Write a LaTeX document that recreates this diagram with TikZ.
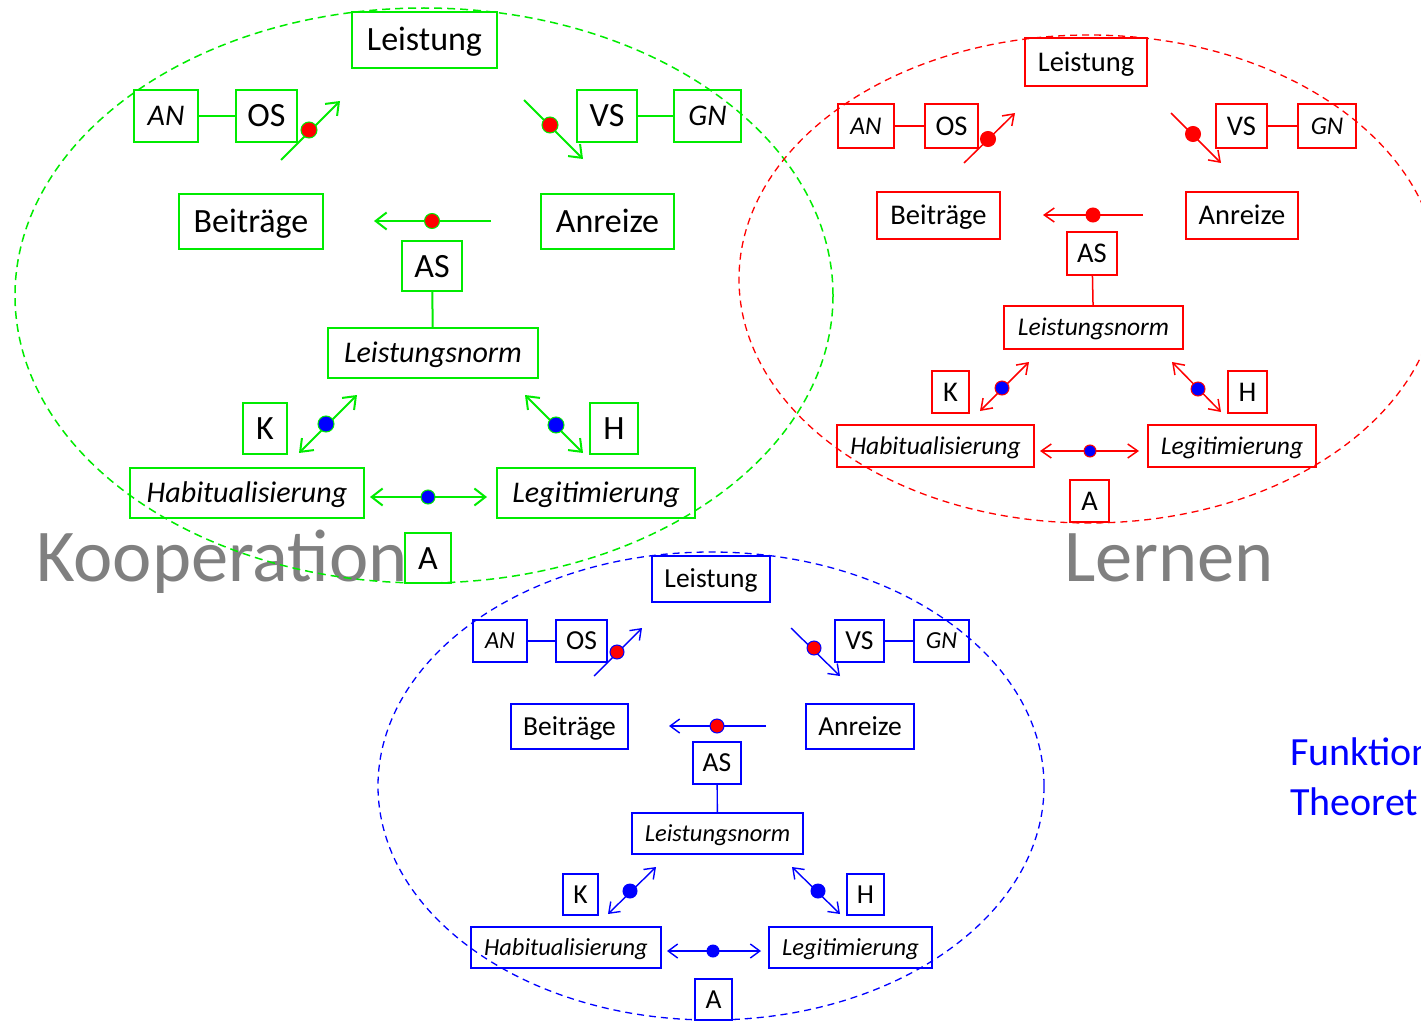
\documentclass[tikz,border=0pt]{standalone}
\usepackage{fontspec}
\setmainfont{Carlito}
\usetikzlibrary{arrows.meta}
\definecolor{gcol}{RGB}{0,235,0}
\definecolor{rcol}{RGB}{255,0,0}
\definecolor{bcol}{RGB}{0,0,255}
\definecolor{graytxt}{RGB}{128,128,128}
\tikzset{
  gbox/.style={inner sep=0pt, draw=gcol, line width=2pt, font=\fontsize{34}{40}\selectfont, text height=24pt, text depth=2pt},
  gboxi/.style={gbox, font=\fontsize{30}{36}\selectfont\itshape, text height=21pt, text depth=1.8pt},
  rbox/.style={inner sep=0pt, draw=rcol, line width=1.5pt, font=\fontsize{28.5}{34}\selectfont, text height=20pt, text depth=1.7pt},
  rboxi/.style={rbox, font=\fontsize{25.5}{30}\selectfont\itshape, text height=17.9pt, text depth=1.5pt},
  bbox/.style={inner sep=0pt, draw=bcol, line width=1.4pt, font=\fontsize{27.5}{33}\selectfont, text height=19.3pt, text depth=1.6pt},
  bboxi/.style={bbox, font=\fontsize{24.5}{29}\selectfont\itshape, text height=17.2pt, text depth=1.5pt},
  garr/.style={draw=gcol, line width=2pt, arrows={-Straight Barb[length=11pt,width=17pt]}},
  rarr/.style={draw=rcol, line width=1.5pt, arrows={-Straight Barb[length=10pt,width=14pt]}},
  barr/.style={draw=bcol, line width=1.4pt, arrows={-Straight Barb[length=9.5pt,width=14pt]}},
  glink/.style={draw=gcol, line width=2pt},
  rlink/.style={draw=rcol, line width=1.5pt},
  blink/.style={draw=bcol, line width=1.4pt},
  dotn/.style={circle, inner sep=0pt, line width=1pt},
  gell/.style={draw=gcol, line width=1.5pt, dash pattern=on 8pt off 5pt},
  rell/.style={draw=rcol, line width=1.3pt, dash pattern=on 7pt off 5pt},
  bell/.style={draw=bcol, line width=1.3pt, dash pattern=on 7pt off 5pt},
  bigtxt/.style={text=graytxt, font=\fontsize{74.5}{80}\selectfont, inner sep=0pt, anchor=base west},
  fntxt/.style={text=bcol, font=\fontsize{40}{48}\selectfont, inner sep=0pt, anchor=base west}
}
\begin{document}
\begin{tikzpicture}[x=1pt,y=-1pt]
\useasboundingbox (0,0) rectangle (1421,1022);

% big labels
\node[bigtxt] (koop) at (36,581) {Kooperation};
\node[bigtxt] (lern) at (1064,581) {Lernen};
\node[fntxt] (fn1) at (1290,765) {Funktion};
\node[fntxt] (fn2) at (1290,815) {Theoret};

% ================= GREEN =================
\draw[gell] (424,295.5) ellipse [x radius=409, y radius=287.5];
\node[gbox, minimum width=145, minimum height=56] (gLei) at (424.5,40) {Leistung};
\node[gboxi, minimum width=64, minimum height=52] (gAN) at (166,116) {AN};
\node[gbox, minimum width=61, minimum height=52] (gOS) at (266.5,116) {OS};
\node[gbox, minimum width=60, minimum height=52] (gVS) at (607,116) {VS};
\node[gboxi, minimum width=67, minimum height=52] (gGN) at (707.5,116) {GN};
\node[gbox, minimum width=144, minimum height=55] (gBei) at (251,221.5) {Beiträge};
\node[gbox, minimum width=133, minimum height=55] (gAnr) at (607.5,221.5) {Anreize};
\node[gbox, minimum width=60, minimum height=50] (gAS) at (432,266) {AS};
\node[gboxi, minimum width=210, minimum height=50] (gLN) at (433,353) {Leistungsnorm};
\node[gbox, minimum width=44, minimum height=51] (gK) at (265,428.5) {K};
\node[gbox, minimum width=48, minimum height=51] (gH) at (614,428.5) {H};
\node[gboxi, minimum width=234, minimum height=50] (gHab) at (247,493) {Habitualisierung};
\node[gboxi, minimum width=198, minimum height=50] (gLeg) at (596,493) {Legitimierung};
\node[gbox, minimum width=46, minimum height=50] (gA) at (428,558) {A};
\draw[glink] (gAN) -- (gOS);
\draw[glink] (gVS) -- (gGN);
\draw[glink] (gAS) -- (gLN);
\coordinate (g1a) at (281,160); \coordinate (g1b) at (340,101);
\coordinate (g2a) at (524,100); \coordinate (g2b) at (583,159);
\coordinate (g3a) at (491,221); \coordinate (g3b) at (374,221);
\coordinate (g4a) at (299,453); \coordinate (g4b) at (357,395);
\coordinate (g5a) at (525,395); \coordinate (g5b) at (583,453);
\coordinate (g6a) at (370,497); \coordinate (g6b) at (487,497);
\draw[garr] (g1a) -- (g1b);
\draw[garr] (g2a) -- (g2b);
\draw[garr] (g3a) -- (g3b);
\draw[garr, arrows={Straight Barb[length=11pt,width=17pt]-Straight Barb[length=11pt,width=17pt]}] (g4a) -- (g4b);
\draw[garr, arrows={Straight Barb[length=11pt,width=17pt]-Straight Barb[length=11pt,width=17pt]}] (g5a) -- (g5b);
\draw[garr, arrows={Straight Barb[length=11pt,width=17pt]-Straight Barb[length=11pt,width=17pt]}] (g6a) -- (g6b);
\node[dotn, fill=rcol, draw=gcol, minimum size=16] (gd1) at (309,130) {};
\node[dotn, fill=rcol, draw=gcol, minimum size=16] (gd2) at (550,125) {};
\node[dotn, fill=rcol, draw=gcol, minimum size=15] (gd3) at (432,221) {};
\node[dotn, fill=bcol, draw=gcol, minimum size=16] (gd4) at (326,424) {};
\node[dotn, fill=bcol, draw=gcol, minimum size=16] (gd5) at (556,425) {};
\node[dotn, fill=bcol, draw=gcol, minimum size=14] (gd6) at (428,497) {};

% ================= RED =================
\draw[rell] (1089,279) ellipse [x radius=350, y radius=244];
\node[rbox, minimum width=122, minimum height=48] (rLei) at (1086,62) {Leistung};
\node[rboxi, minimum width=56, minimum height=44] (rAN) at (866,126) {AN};
\node[rbox, minimum width=53, minimum height=44] (rOS) at (951.5,126) {OS};
\node[rbox, minimum width=51, minimum height=44] (rVS) at (1241.5,126) {VS};
\node[rboxi, minimum width=58, minimum height=44] (rGN) at (1327,126) {GN};
\node[rbox, minimum width=123, minimum height=47] (rBei) at (938.5,215.5) {Beiträge};
\node[rbox, minimum width=112, minimum height=47] (rAnr) at (1242,215.5) {Anreize};
\node[rbox, minimum width=50, minimum height=43] (rAS) at (1092,253.5) {AS};
\node[rboxi, minimum width=179, minimum height=43] (rLN) at (1093.5,327.5) {Leistungsnorm};
\node[rbox, minimum width=37, minimum height=42] (rK) at (950.5,392) {K};
\node[rbox, minimum width=39, minimum height=42] (rH) at (1247.5,392) {H};
\node[rboxi, minimum width=197, minimum height=42] (rHab) at (935.5,446) {Habitualisierung};
\node[rboxi, minimum width=168, minimum height=42] (rLeg) at (1232,446) {Legitimierung};
\node[rbox, minimum width=39, minimum height=42] (rA) at (1089.5,501) {A};
\draw[rlink] (rAN) -- (rOS);
\draw[rlink] (rVS) -- (rGN);
\draw[rlink] (rAS) -- (rLN);
\coordinate (r1a) at (964,163); \coordinate (r1b) at (1015,113);
\coordinate (r2a) at (1171,113); \coordinate (r2b) at (1221,163);
\coordinate (r3a) at (1143,215); \coordinate (r3b) at (1043,215);
\coordinate (r4a) at (980,411); \coordinate (r4b) at (1029,362);
\coordinate (r5a) at (1172,362); \coordinate (r5b) at (1221,412);
\coordinate (r6a) at (1040,451); \coordinate (r6b) at (1139,451);
\draw[rarr] (r1a) -- (r1b);
\draw[rarr] (r2a) -- (r2b);
\draw[rarr] (r3a) -- (r3b);
\draw[rarr, arrows={Straight Barb[length=10pt,width=14pt]-Straight Barb[length=10pt,width=14pt]}] (r4a) -- (r4b);
\draw[rarr, arrows={Straight Barb[length=10pt,width=14pt]-Straight Barb[length=10pt,width=14pt]}] (r5a) -- (r5b);
\draw[rarr, arrows={Straight Barb[length=10pt,width=14pt]-Straight Barb[length=10pt,width=14pt]}] (r6a) -- (r6b);
\node[dotn, fill=rcol, draw=rcol, minimum size=15] (rd1) at (988,139) {};
\node[dotn, fill=rcol, draw=rcol, minimum size=15] (rd2) at (1193,134) {};
\node[dotn, fill=rcol, draw=rcol, minimum size=14] (rd3) at (1093,215) {};
\node[dotn, fill=bcol, draw=rcol, minimum size=14] (rd4) at (1002,388) {};
\node[dotn, fill=bcol, draw=rcol, minimum size=14] (rd5) at (1198,389) {};
\node[dotn, fill=bcol, draw=rcol, minimum size=12] (rd6) at (1090,451) {};

% ================= BLUE =================
\draw[bell] (711,786) ellipse [x radius=333, y radius=234];
\node[bbox, minimum width=118, minimum height=46] (bLei) at (711,579) {Leistung};
\node[bboxi, minimum width=54, minimum height=42] (bAN) at (500,641) {AN};
\node[bbox, minimum width=51, minimum height=42] (bOS) at (581.5,641) {OS};
\node[bbox, minimum width=49, minimum height=42] (bVS) at (859.5,641) {VS};
\node[bboxi, minimum width=55, minimum height=42] (bGN) at (941.5,641) {GN};
\node[bbox, minimum width=117, minimum height=45] (bBei) at (569.5,726.5) {Beiträge};
\node[bbox, minimum width=108, minimum height=45] (bAnr) at (860,726.5) {Anreize};
\node[bbox, minimum width=48, minimum height=42] (bAS) at (717,763) {AS};
\node[bboxi, minimum width=171, minimum height=41] (bLN) at (717.5,833.5) {Leistungsnorm};
\node[bbox, minimum width=35, minimum height=41] (bK) at (580.5,894.5) {K};
\node[bbox, minimum width=37, minimum height=41] (bH) at (865.5,894.5) {H};
\node[bboxi, minimum width=190, minimum height=41] (bHab) at (566,947.5) {Habitualisierung};
\node[bboxi, minimum width=163, minimum height=41] (bLeg) at (850.5,947.5) {Legitimierung};
\node[bbox, minimum width=37, minimum height=41] (bA) at (713.5,999.5) {A};
\draw[blink] (bAN) -- (bOS);
\draw[blink] (bVS) -- (bGN);
\draw[blink] (bAS) -- (bLN);
\coordinate (b1a) at (594,676); \coordinate (b1b) at (642,628);
\coordinate (b2a) at (791,628); \coordinate (b2b) at (840,676);
\coordinate (b3a) at (766,726); \coordinate (b3b) at (669,726);
\coordinate (b4a) at (608,914); \coordinate (b4b) at (656,867);
\coordinate (b5a) at (792,867); \coordinate (b5b) at (840,914);
\coordinate (b6a) at (667,951); \coordinate (b6b) at (761,951);
\draw[barr] (b1a) -- (b1b);
\draw[barr] (b2a) -- (b2b);
\draw[barr] (b3a) -- (b3b);
\draw[barr, arrows={Straight Barb[length=9.5pt,width=14pt]-Straight Barb[length=9.5pt,width=14pt]}] (b4a) -- (b4b);
\draw[barr, arrows={Straight Barb[length=9.5pt,width=14pt]-Straight Barb[length=9.5pt,width=14pt]}] (b5a) -- (b5b);
\draw[barr, arrows={Straight Barb[length=9.5pt,width=14pt]-Straight Barb[length=9.5pt,width=14pt]}] (b6a) -- (b6b);
\node[dotn, fill=rcol, draw=bcol, minimum size=14] (bd1) at (617,652) {};
\node[dotn, fill=rcol, draw=bcol, minimum size=14] (bd2) at (814,648) {};
\node[dotn, fill=rcol, draw=bcol, minimum size=14] (bd3) at (717,726) {};
\node[dotn, fill=bcol, draw=bcol, minimum size=14] (bd4) at (630,891) {};
\node[dotn, fill=bcol, draw=bcol, minimum size=14] (bd5) at (818,891) {};
\node[dotn, fill=bcol, draw=bcol, minimum size=12] (bd6) at (713,951) {};
\end{tikzpicture}
\end{document}
